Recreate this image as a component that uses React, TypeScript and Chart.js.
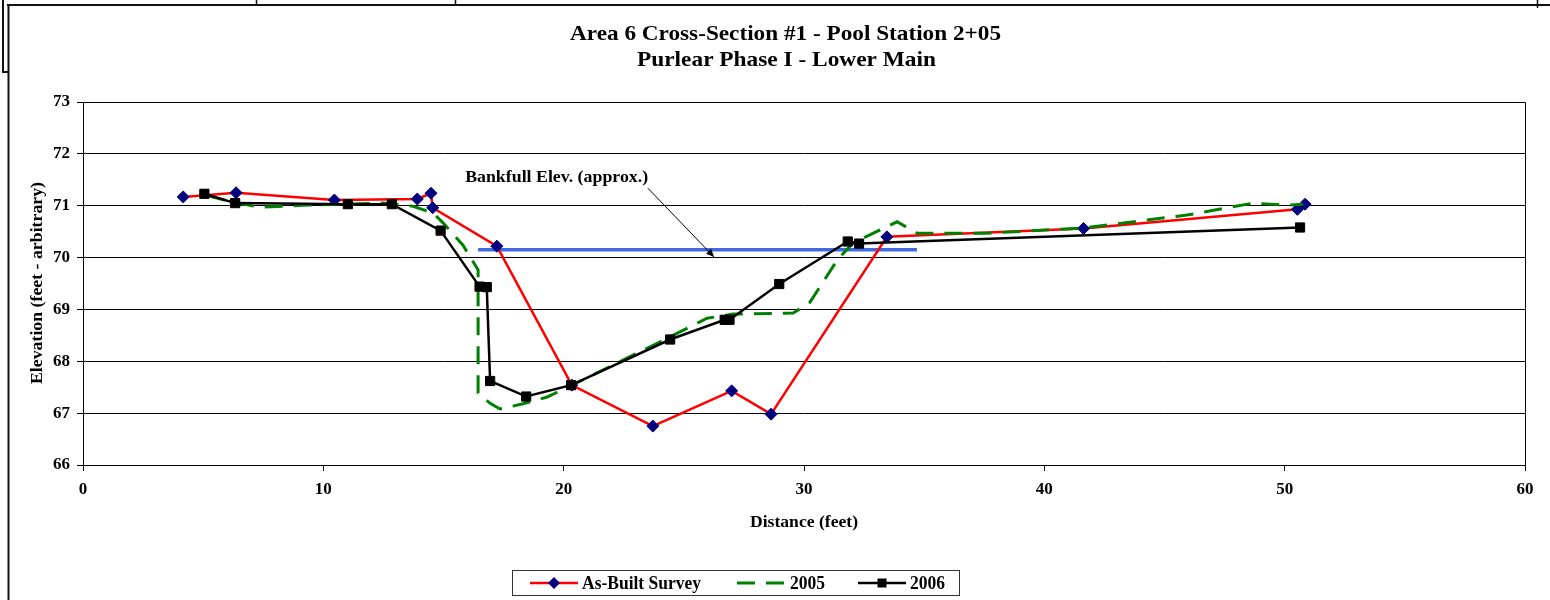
import React, { useEffect, useRef } from "react";
import { Chart, registerables } from "chart.js";

Chart.register(...registerables);

// ---- Data ----
const asBuiltX = [4.17, 6.37, 10.46, 13.91, 14.48, 14.55, 17.22, 20.34, 23.71, 26.99, 28.63, 33.45, 41.63, 50.53, 50.85];
const asBuiltY = [71.17, 71.25, 71.11, 71.13, 71.24, 70.96, 70.22, 67.54, 66.75, 67.43, 66.98, 70.4, 70.56, 70.93, 71.03];

const s2005X = [5.2, 6.2, 7.37, 9.15, 12.48, 13.73, 14.57, 14.98, 15.81, 16.44, 16.44, 16.94, 17.35, 18.31, 19.31, 20.35, 23.6, 25.97, 27.05, 29.55, 30.25, 31.38, 32.04, 33.87, 34.71, 37.62, 41.62, 45.94, 48.69, 50.1, 50.77];
const s2005Y = [71.19, 71.07, 70.97, 71.01, 71.05, 70.99, 70.86, 70.67, 70.24, 69.76, 67.39, 67.19, 67.08, 67.18, 67.31, 67.54, 68.28, 68.83, 68.91, 68.93, 69.14, 69.95, 70.28, 70.69, 70.47, 70.47, 70.57, 70.82, 71.05, 71.01, 71.03];

const s2006X = [5.05, 6.33, 11.02, 12.85, 14.88, 16.5, 16.8, 16.94, 18.44, 20.31, 24.43, 26.7, 26.9, 28.97, 31.82, 32.29, 50.64];
const s2006Y = [71.23, 71.05, 71.03, 71.03, 70.52, 69.44, 69.43, 67.62, 67.32, 67.54, 68.42, 68.8, 68.8, 69.49, 70.31, 70.27, 70.58];

const bankfullX = [16.44, 34.7];
const bankfullY = [70.15, 70.15];

const xTicks = [0, 10, 20, 30, 40, 50, 60];
const yTicks = [66, 67, 68, 69, 70, 71, 72, 73];

const titleLines = ["Area 6 Cross-Section #1 - Pool Station 2+05", "Purlear Phase I - Lower Main"];
const xTitle = "Distance (feet)";
const yTitle = "Elevation (feet - arbitrary)";
const annotationText = "Bankfull Elev. (approx.)";
const annotationAnchor = [15.9, 71.55];
const arrowFrom = [23.5, 71.34];
const arrowTo = [26.26, 70.01];
const legendLabels = ["As-Built Survey", "2005", "2006"];

const FONT = '"Liberation Serif", "Times New Roman", serif';

const zip = (xs: number[], ys: number[]) => xs.map((x, i) => ({ x, y: ys[i] }));

function drawText(
  ctx: CanvasRenderingContext2D,
  s: string,
  x: number,
  y: number,
  size: number,
  align: "left" | "center" | "right",
  targetWidth?: number
) {
  ctx.save();
  ctx.font = `bold ${size}px ${FONT}`;
  ctx.textAlign = "left";
  ctx.textBaseline = "alphabetic";
  ctx.fillStyle = "#000";
  const m = ctx.measureText(s).width;
  const sx = targetWidth ? targetWidth / m : 1;
  const tw = m * sx;
  const left = align === "center" ? x - tw / 2 : align === "right" ? x - tw : x;
  ctx.translate(left, y);
  ctx.scale(sx, 1);
  ctx.fillText(s, 0, 0);
  ctx.restore();
}

const decor = {
  id: "decor",
  beforeDraw(chart: any) {
    const ctx = chart.ctx as CanvasRenderingContext2D;
    ctx.save();
    ctx.fillStyle = "#fff";
    ctx.fillRect(0, 0, chart.width, chart.height);
    ctx.strokeStyle = "#111";
    ctx.lineWidth = 2;
    ctx.beginPath();
    ctx.moveTo(7, 5);
    ctx.lineTo(1550, 5);
    ctx.moveTo(8.5, 5);
    ctx.lineTo(8.5, 600);
    ctx.moveTo(3, 0);
    ctx.lineTo(3, 72);
    ctx.lineTo(8, 72);
    ctx.stroke();
    ctx.lineWidth = 1.5;
    ctx.beginPath();
    ctx.moveTo(256.5, 0);
    ctx.lineTo(256.5, 5);
    ctx.moveTo(455.5, 0);
    ctx.lineTo(455.5, 5);
    ctx.moveTo(1537.5, 0);
    ctx.lineTo(1537.5, 8);
    ctx.stroke();
    ctx.restore();
  },
  afterDraw(chart: any) {
    const ctx = chart.ctx as CanvasRenderingContext2D;
    const ca = chart.chartArea;
    const xs = chart.scales.x;
    const ys = chart.scales.y;
    ctx.save();
    ctx.strokeStyle = "#000";
    ctx.lineWidth = 1;
    ctx.beginPath();
    ctx.moveTo(ca.left, Math.round(ca.top) + 0.5);
    ctx.lineTo(ca.right + 0.5, Math.round(ca.top) + 0.5);
    ctx.lineTo(ca.right + 0.5, ca.bottom);
    ctx.stroke();

    // titles
    drawText(ctx, titleLines[0], 785.5, 40, 21, "center", 431);
    drawText(ctx, titleLines[1], 786.5, 66, 21, "center", 299);

    // axis titles
    drawText(ctx, xTitle, (ca.left + ca.right) / 2, 527, 17, "center", 108);
    ctx.save();
    ctx.translate(42, 283);
    ctx.rotate(-Math.PI / 2);
    drawText(ctx, yTitle, 0, 0, 17, "center", 202);
    ctx.restore();

    // annotation
    const ax = xs.getPixelForValue(annotationAnchor[0]);
    const ay = ys.getPixelForValue(annotationAnchor[1]);
    drawText(ctx, annotationText, ax, ay + 5, 16, "left", 183);
    const x1 = xs.getPixelForValue(arrowFrom[0]);
    const y1 = ys.getPixelForValue(arrowFrom[1]);
    const x2 = xs.getPixelForValue(arrowTo[0]);
    const y2 = ys.getPixelForValue(arrowTo[1]);
    ctx.strokeStyle = "#000";
    ctx.fillStyle = "#000";
    ctx.lineWidth = 1;
    ctx.beginPath();
    ctx.moveTo(x1, y1);
    ctx.lineTo(x2, y2);
    ctx.stroke();
    const ang = Math.atan2(y2 - y1, x2 - x1);
    const hl = 8;
    const hw = 3.5;
    ctx.beginPath();
    ctx.moveTo(x2, y2);
    ctx.lineTo(x2 - hl * Math.cos(ang) + hw * Math.sin(ang), y2 - hl * Math.sin(ang) - hw * Math.cos(ang));
    ctx.lineTo(x2 - hl * Math.cos(ang) - hw * Math.sin(ang), y2 - hl * Math.sin(ang) + hw * Math.cos(ang));
    ctx.closePath();
    ctx.fill();

    // legend
    ctx.strokeStyle = "#333";
    ctx.lineWidth = 1;
    ctx.strokeRect(512.5, 570.5, 447, 25);
    const ly = 583;
    ctx.strokeStyle = "#FF0000";
    ctx.lineWidth = 2.5;
    ctx.beginPath();
    ctx.moveTo(530, ly);
    ctx.lineTo(578, ly);
    ctx.stroke();
    ctx.fillStyle = "#000080";
    ctx.beginPath();
    ctx.moveTo(554, ly - 6);
    ctx.lineTo(560, ly);
    ctx.lineTo(554, ly + 6);
    ctx.lineTo(548, ly);
    ctx.closePath();
    ctx.fill();
    drawText(ctx, legendLabels[0], 582, 589, 18, "left", 119);
    ctx.strokeStyle = "#008000";
    ctx.lineWidth = 3;
    ctx.setLineDash([18, 11]);
    ctx.beginPath();
    ctx.moveTo(737, ly);
    ctx.lineTo(784, ly);
    ctx.stroke();
    ctx.setLineDash([]);
    drawText(ctx, legendLabels[1], 790, 589, 18, "left", 35);
    ctx.strokeStyle = "#000";
    ctx.lineWidth = 2.5;
    ctx.beginPath();
    ctx.moveTo(858, ly);
    ctx.lineTo(906, ly);
    ctx.stroke();
    ctx.fillStyle = "#000";
    ctx.fillRect(877.5, ly - 4.5, 9, 9);
    drawText(ctx, legendLabels[2], 910, 589, 18, "left", 35);
    ctx.restore();
  },
};

export default function App() {
  const ref = useRef<HTMLCanvasElement | null>(null);

  useEffect(() => {
    document.body.style.margin = "0";
    if (!ref.current) return;
    const tickFont = { family: FONT, size: 17, weight: "bold" as const };
    const chart = new Chart(ref.current, {
      type: "scatter",
      data: {
        datasets: [
          {
            label: legendLabels[2],
            data: zip(s2006X, s2006Y),
            showLine: true,
            borderColor: "#000",
            borderWidth: 2.5,
            pointStyle: "rect",
            pointRadius: 6.5,
            pointBackgroundColor: "#000",
            pointBorderColor: "#000",
            pointBorderWidth: 1,
            order: 0,
          },
          {
            label: legendLabels[1],
            data: zip(s2005X, s2005Y),
            showLine: true,
            borderColor: "#008000",
            borderWidth: 3,
            borderDash: [18, 11],
            pointRadius: 0,
            order: 1,
          },
          {
            label: legendLabels[0],
            data: zip(asBuiltX, asBuiltY),
            showLine: true,
            borderColor: "#FF0000",
            borderWidth: 2.5,
            pointStyle: "rectRot",
            pointRadius: 6,
            pointBackgroundColor: "#000080",
            pointBorderColor: "#000080",
            pointBorderWidth: 1,
            order: 2,
          },
          {
            label: "Bankfull",
            data: zip(bankfullX, bankfullY),
            showLine: true,
            borderColor: "#4169E1",
            borderWidth: 3.5,
            pointRadius: 0,
            order: 3,
          },
        ],
      },
      options: {
        responsive: false,
        animation: false,
        devicePixelRatio: 1,
        events: [],
        layout: { padding: { top: 102, right: 25, bottom: 0, left: 0 }, autoPadding: false },
        plugins: { legend: { display: false }, tooltip: { enabled: false }, title: { display: false } },
        scales: {
          x: {
            type: "linear",
            min: 0,
            max: 60,
            afterBuildTicks: (s: any) => {
              s.ticks = xTicks.map((v) => ({ value: v }));
            },
            afterFit: (s: any) => {
              s.height = 135;
            },
            grid: { drawOnChartArea: false, drawTicks: true, tickLength: 6, color: "#000", lineWidth: 1 },
            border: { display: true, color: "#000", width: 1 },
            ticks: { font: tickFont, color: "#000", padding: 8, maxRotation: 0, autoSkip: false },
          },
          y: {
            type: "linear",
            min: 66,
            max: 73,
            afterBuildTicks: (s: any) => {
              s.ticks = yTicks.map((v) => ({ value: v }));
            },
            afterFit: (s: any) => {
              s.width = 83;
            },
            grid: { drawOnChartArea: true, drawTicks: true, tickLength: 6, color: "#000", lineWidth: 1 },
            border: { display: true, color: "#000", width: 1 },
            ticks: { font: tickFont, color: "#000", padding: 7, autoSkip: false },
          },
        },
      },
      plugins: [decor],
    } as any);
    return () => chart.destroy();
  }, []);

  return (
    <div style={{ position: "absolute", left: 0, top: 0, width: 1550, height: 600 }}>
      <canvas ref={ref} width={1550} height={600} style={{ display: "block", width: 1550, height: 600 }} />
    </div>
  );
}
